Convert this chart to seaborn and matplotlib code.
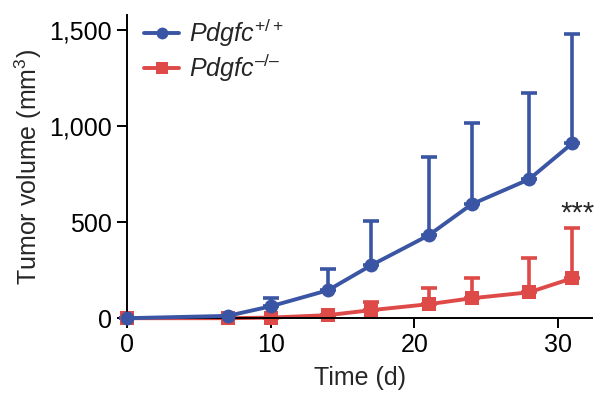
#!/usr/bin/env python3

import numpy as np
import pandas as pd
import matplotlib
matplotlib.use('Agg')
import matplotlib.pyplot as plt
from matplotlib.lines import Line2D
import seaborn as sns

days = [0, 7, 10, 14, 17, 21, 24, 28, 31]
wt_mean = [0, 12, 62, 146, 276, 432, 594, 724, 911]
wt_err = [0, 0, 42, 109, 229, 407, 422, 448, 569]
ko_mean = [0, 0, 3, 16, 42, 73, 104, 135, 208]
ko_err = [0, 0, 0, 0, 41, 83, 104, 177, 261]

wt_label = r'$\mathit{Pdgfc}^{\mathregular{+/+}}$'
ko_label = '$\\mathit{Pdgfc}^{\\mathregular{\u2013/\u2013}}$'

blue = '#3a55a4'
red = '#de4a48'

sns.set_style('ticks')
plt.rcParams['font.family'] = ['Liberation Sans', 'DejaVu Sans']
plt.rcParams['mathtext.fontset'] = 'custom'
plt.rcParams['mathtext.rm'] = 'Liberation Sans'
plt.rcParams['mathtext.it'] = 'Liberation Sans:italic'

df = pd.DataFrame({
	'day': days + days,
	'vol': wt_mean + ko_mean,
	'genotype': [wt_label] * len(days) + [ko_label] * len(days),
})

fig = plt.figure(figsize = (6, 4.09), dpi = 100)
ax = fig.add_axes([0.212, 0.222, 0.775, 0.741])

# upper error bars only, red under blue
ax.errorbar(days, ko_mean, yerr = [np.zeros(len(days)), ko_err], fmt = 'none',
	ecolor = red, elinewidth = 2.6, capsize = 5.5, capthick = 2.6, clip_on = False, zorder = 1)
ax.errorbar(days, wt_mean, yerr = [np.zeros(len(days)), wt_err], fmt = 'none',
	ecolor = blue, elinewidth = 2.6, capsize = 5.5, capthick = 2.6, clip_on = False, zorder = 3)

sns.lineplot(data = df, x = 'day', y = 'vol', hue = 'genotype', style = 'genotype',
	hue_order = [ko_label, wt_label], style_order = [ko_label, wt_label],
	palette = {wt_label: blue, ko_label: red}, markers = {wt_label: 'o', ko_label: 's'},
	dashes = False, linewidth = 2.8, markersize = 10, markeredgewidth = 0, ax = ax, legend = False)
for ln in ax.lines:
	ln.set_clip_on(False)
	if ln.get_color() == blue:
		ln.set_zorder(4)
	else:
		ln.set_zorder(2)

handles = [Line2D([], [], color = blue, marker = 'o', lw = 2.8, ms = 8.5, mew = 0),
	Line2D([], [], color = red, marker = 's', lw = 2.8, ms = 8.5, mew = 0)]
ax.legend(handles, [wt_label, ko_label], loc = 'upper left', frameon = False, fontsize = 18,
	handlelength = 1.4, handletextpad = 0.4, borderaxespad = 0.1, labelspacing = 0.1,
	bbox_to_anchor = (0.01, 1.035))

ax.text(31.4, 470, '***', ha = 'center', va = 'bottom', fontsize = 21)

ax.set_xlim(0, 32.4)
ax.set_ylim(0, 1580)
ax.set_xticks([0, 10, 20, 30])
ax.set_yticks([0, 500, 1000, 1500])
ax.set_yticklabels(['0', '500', '1,000', '1,500'])
ax.set_xlabel('Time (d)', fontsize = 18, labelpad = 6)
ax.set_ylabel('Tumor volume (mm$^3$)', fontsize = 18, labelpad = 4)
ax.tick_params(labelsize = 18, length = 7, width = 1.4, colors = 'black', pad = 4)
for s in ['left', 'bottom']:
	ax.spines[s].set_linewidth(1.4)
	ax.spines[s].set_color('black')
sns.despine(ax = ax)

fig.savefig('out.png', dpi = 100)
